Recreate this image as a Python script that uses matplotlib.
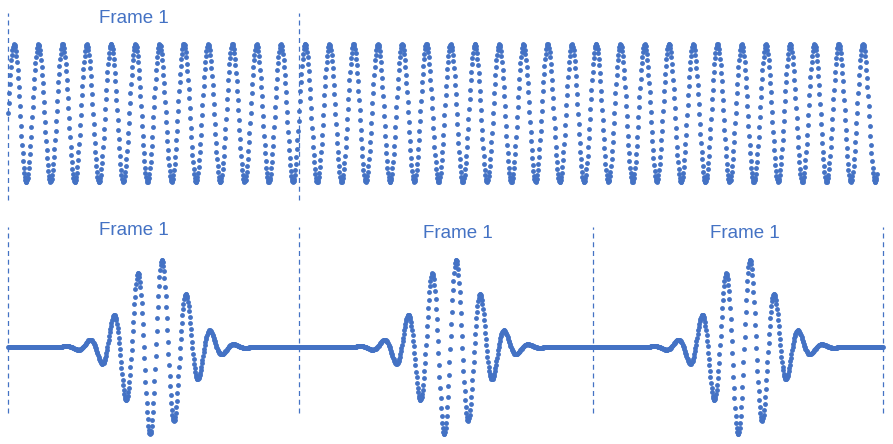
import numpy as np
import matplotlib
matplotlib.use("Agg")
import matplotlib.pyplot as plt

# x is measured in carrier periods, counted from the first frame edge
samples_per_period = 43.4
top_length = 35.83                    # periods covered by the continuous wave
bottom_length = 36.08                 # periods covered by the pulsed signal
frame_edges_top = [0.0, 12.0]
frame_edges_bottom = [0.0, 12.0, 24.12, 36.08]
packet_centers = [6.1, 18.23, 30.35]
packet_width = 1.22                   # gaussian sigma, in periods
top_labels = ["Frame 1"]
bottom_labels = ["Frame 1", "Frame 1", "Frame 1"]

blue = "#4472C4"
plt.rcParams['font.family'] = ['Liberation Sans', 'DejaVu Sans']

# continuous carrier
t_top = np.arange(0, top_length, 1.0 / samples_per_period)
y_top = np.sin(2 * np.pi * t_top)

# three gaussian wave packets
t_bot = np.arange(0, bottom_length, 1.0 / samples_per_period)
y_bot = np.zeros_like(t_bot)
for c in packet_centers:
    y_bot += np.exp(-(t_bot - c) ** 2 / (2 * packet_width ** 2)) * np.sin(2 * np.pi * (t_bot - c))

fig = plt.figure(figsize=(8.93, 4.44), dpi=100)
ax_top = fig.add_axes([0, 0.5, 1, 0.5])
ax_bot = fig.add_axes([0, 0, 1, 0.5])

xlim = (-0.33, 36.49)

ax_top.plot(t_top, y_top, 'o', ms=3.5, mew=0, color=blue)
for e in frame_edges_top:
    ax_top.axvline(e, ymin=0.099, ymax=0.941, color=blue, lw=0.9, ls=(0, (4, 3)))
ax_top.text(5.2, 1.37, top_labels[0], color=blue, fontsize=13.5, ha='center', va='center')
ax_top.set_xlim(*xlim)
ax_top.set_ylim(-1.58, 1.64)

ax_bot.plot(t_bot, y_bot, 'o', ms=3.5, mew=0, color=blue)
for e in frame_edges_bottom:
    ax_bot.axvline(e, ymin=0.14, ymax=0.977, color=blue, lw=0.9, ls=(0, (4, 3)))
label_x = [5.2, 18.55, 30.4]
label_y = [1.31, 1.27, 1.27]
for lx, ly, lab in zip(label_x, label_y, bottom_labels):
    ax_bot.text(lx, ly, lab, color=blue, fontsize=13.5, ha='center', va='center')
ax_bot.set_xlim(*xlim)
ax_bot.set_ylim(-1.09, 1.404)

for ax in (ax_top, ax_bot):
    ax.axis('off')

fig.savefig("out.png", dpi=100)
